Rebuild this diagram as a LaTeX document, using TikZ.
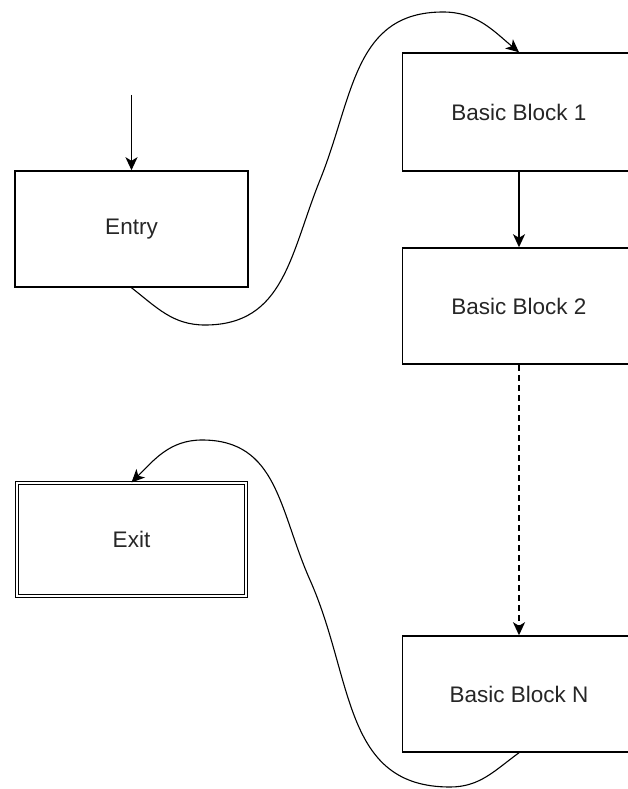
\documentclass[tikz,border=0pt]{standalone}
\usepackage{fontspec}
\setmainfont{Liberation Sans}
\usetikzlibrary{arrows.meta}
\begin{document}
\begin{tikzpicture}[x=1pt,y=1pt,
  blockbox/.style={draw, line width=1.5pt, minimum width=233pt, minimum height=116pt, inner sep=0pt,
    font=\fontsize{22.5}{27}\selectfont, text=black!85},
  exitbox/.style={blockbox, double, double distance=2.4pt, line width=1.1pt, minimum width=229pt, minimum height=113pt},
  tip/.style={-{Stealth[length=13pt,width=12pt,inset=3.5pt]}},
  straightarrow/.style={tip, line width=1.7pt},
  curvearrow/.style={tip, line width=1.1pt}
]
\useasboundingbox (0,0) rectangle (627,-789);
\node[blockbox] (en) at (131.5,-229) {Entry};
\node[blockbox, minimum height=118pt] (b1) at (519,-112) {Basic Block 1};
\node[blockbox] (b2) at (519,-306) {Basic Block 2};
\node[blockbox] (bn) at (519,-694) {Basic Block N};
\node[exitbox] (ex) at (131.5,-539.5) {Exit};
\coordinate (start) at (131.5,-95);

\draw[straightarrow] (start) -- (en.north);
\draw[straightarrow] (b1.south) -- (b2.north);
\draw[straightarrow, dash pattern=on 6pt off 4pt] (b2.south) -- (bn.north);

\draw[curvearrow] (en.south) to[out=-38,in=180] (205,-325)
  to[out=0,in=-112,looseness=1.1] (320,-180)
  to[out=68,in=180,looseness=1.1] (443,-12)
  to[out=0,in=140] (b1.north);

\draw[curvearrow] (bn.south) to[out=-144,in=0] (450,-787)
  to[out=180,in=-66,looseness=1.1] (310,-580)
  to[out=114,in=0,looseness=1.1] (202,-440)
  to[out=180,in=45] (ex.north);
\end{tikzpicture}
\end{document}
